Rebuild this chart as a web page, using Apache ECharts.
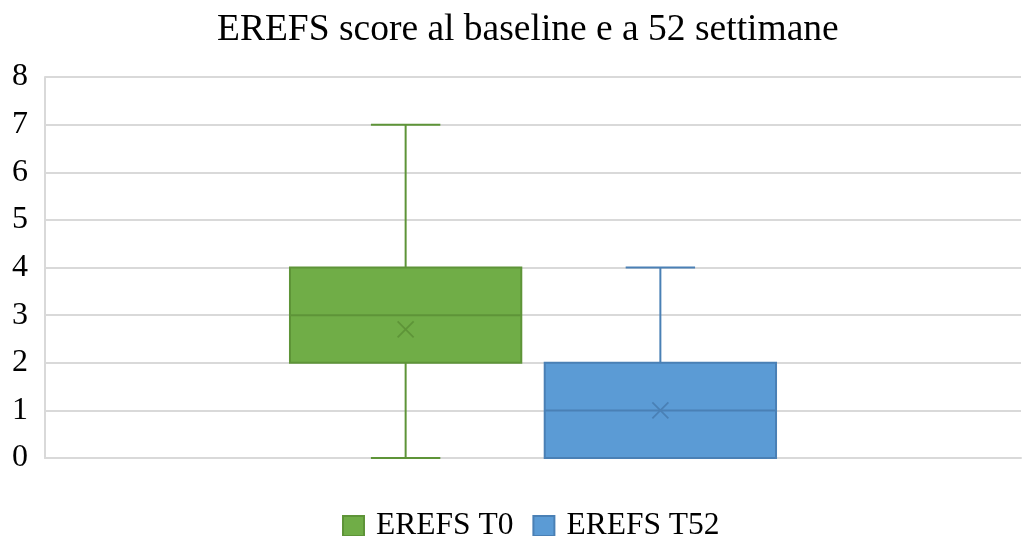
<!DOCTYPE html>
<html>
<head>
<meta charset="utf-8">
<script src="https://cdn.jsdelivr.net/npm/echarts@6/dist/echarts.min.js"></script>
<style>
  html, body { margin: 0; padding: 0; background: #fff; }
  #chart { width: 1025px; height: 536px; }
</style>
</head>
<body>
<div id="chart"></div>
<script>
// Box-plot summaries for each time point
const seriesNames = ['EREFS T0', 'EREFS T52'];
const whiskerLow  = [0, 0];
const q1          = [2, 0];
const median      = [3, 1];
const q3          = [4, 2];
const whiskerHigh = [7, 4];
const mean        = [2.7, 1.0];
const yTicks      = [0, 1, 2, 3, 4, 5, 6, 7, 8];

const fills   = ['#70AD47', '#5B9BD5'];
const strokes = ['#5E9438', '#4A80B5'];
const serif = '"Liberation Serif", "Times New Roman", serif';

function renderBox(seriesIdx) {
  return function (params, api) {
    const base = api.coord([api.value(0), 0]);
    const band = api.size([1, 0])[0];
    const dir = seriesIdx === 0 ? -1 : 1;
    const cx = base[0] + dir * band * 0.1305;
    const w = band * 0.237;
    const capW = w * 0.3;
    const y = function (v) { return api.coord([api.value(0), v])[1]; };
    const yLow = y(api.value(1)), yQ1 = y(api.value(2)), yMed = y(api.value(3));
    const yQ3 = y(api.value(4)), yHigh = y(api.value(5)), yMean = y(api.value(6));
    const stroke = strokes[seriesIdx];
    const lineStyle = { stroke: stroke, lineWidth: 2 };
    const m = 8;
    return {
      type: 'group',
      children: [
        { type: 'line', shape: { x1: cx, y1: yHigh, x2: cx, y2: yQ3 }, style: lineStyle },
        { type: 'line', shape: { x1: cx, y1: yQ1, x2: cx, y2: yLow }, style: lineStyle },
        { type: 'line', shape: { x1: cx - capW / 2, y1: yHigh, x2: cx + capW / 2, y2: yHigh }, style: lineStyle },
        { type: 'line', shape: { x1: cx - capW / 2, y1: yLow, x2: cx + capW / 2, y2: yLow }, style: lineStyle },
        { type: 'rect', shape: { x: cx - w / 2, y: yQ3, width: w, height: yQ1 - yQ3 },
          style: { fill: fills[seriesIdx], stroke: stroke, lineWidth: 2 } },
        { type: 'line', shape: { x1: cx - w / 2, y1: yMed, x2: cx + w / 2, y2: yMed },
          style: { stroke: stroke, lineWidth: 2 } },
        { type: 'line', shape: { x1: cx - m, y1: yMean - m, x2: cx + m, y2: yMean + m },
          style: { stroke: stroke, lineWidth: 1.8 } },
        { type: 'line', shape: { x1: cx - m, y1: yMean + m, x2: cx + m, y2: yMean - m },
          style: { stroke: stroke, lineWidth: 1.8 } }
      ]
    };
  };
}

const chart = echarts.init(document.getElementById('chart'), null, { renderer: 'canvas' });

const series = seriesNames.map(function (name, i) {
  return {
    name: name,
    type: 'custom',
    renderItem: renderBox(i),
    itemStyle: { color: fills[i], borderColor: strokes[i], borderWidth: 1 },
    encode: { x: 0, y: [1, 2, 3, 4, 5, 6] },
    data: [[0, whiskerLow[i], q1[i], median[i], q3[i], whiskerHigh[i], mean[i]]],
    clip: false
  };
});

chart.setOption({
  animation: false,
  backgroundColor: '#ffffff',
  title: {
    text: 'EREFS score al baseline e a 52 settimane',
    left: 212,
    top: 6,
    textStyle: { fontFamily: serif, fontSize: 37.5, fontWeight: 'normal', color: '#000' }
  },
  legend: {
    data: seriesNames,
    left: 337,
    top: 505,
    icon: 'rect',
    itemWidth: 21,
    itemHeight: 20,
    itemGap: 19,
    textStyle: { fontFamily: serif, fontSize: 31.5, color: '#000', padding: [0, 0, 0, 7] }
  },
  grid: { left: 45, right: 4, top: 77, bottom: 78 },
  xAxis: {
    type: 'category',
    data: [''],
    axisLine: { show: true, lineStyle: { color: '#D9D9D9', width: 2 } },
    axisTick: { show: false },
    axisLabel: { show: false },
    splitLine: { show: false }
  },
  yAxis: {
    type: 'value',
    min: yTicks[0],
    max: yTicks[yTicks.length - 1],
    interval: 1,
    axisLine: { show: true, lineStyle: { color: '#D9D9D9', width: 2 } },
    axisTick: { show: false },
    axisLabel: { fontFamily: serif, fontSize: 32, color: '#000', margin: 17 },
    splitLine: { show: true, lineStyle: { color: '#D9D9D9', width: 2 } }
  },
  series: series
});
</script>
</body>
</html>
